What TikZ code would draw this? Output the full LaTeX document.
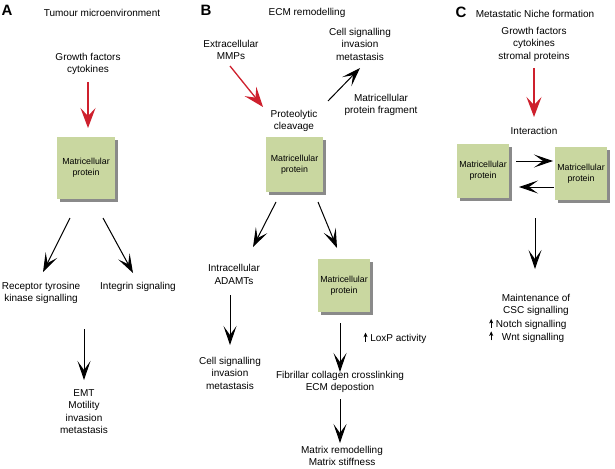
\documentclass[tikz,border=0pt]{standalone}
\usepackage{fontspec}
\setmainfont{Liberation Sans}
\usetikzlibrary{arrows.meta,shadows,calc}
\definecolor{boxgreen}{RGB}{201,215,160}
\definecolor{arrred}{RGB}{206,32,45}
\newcommand\uparr{\tikz[baseline=0pt]\draw[line width=0.7pt,-{Stealth[length=4.5pt,width=4pt,inset=1.2pt]}] (0pt,0pt)--(0pt,9pt);}
\begin{document}
\begin{tikzpicture}[x=1pt,y=-1pt,
  txt/.style={align=center,inner sep=0pt,font=\fontsize{10}{12.5}\selectfont},
  panel/.style={inner sep=0pt,font=\fontsize{15}{15}\selectfont\bfseries},
  mbox/.style={rectangle,fill=boxgreen,align=center,inner sep=0pt,
    font=\fontsize{8.8}{11}\selectfont,
    drop shadow={shadow xshift=2.5pt,shadow yshift=-2.5pt,fill=black!65,opacity=0.7}},
  arr/.style={line width=1pt,-{Stealth[length=19pt,width=13pt,inset=9pt]}},
  redarr/.style={line width=1.3pt,draw=arrred,-{Stealth[length=20pt,width=15pt,inset=8pt,fill=arrred]}}]
\useasboundingbox[fill=white] (0,0) rectangle (615,468);

% ---------------- Panel A
\node[panel] (labA) at (7,10) {A};
\node[txt] (tA) at (102,13) {Tumour microenvironment};
\node[txt] (gfA) at (88,64) {Growth factors\\cytokines};
\node[mbox,minimum width=58pt,minimum height=62pt] (boxA) at (86,168) {Matricellular\\protein};
\node[txt] (rtk) at (41,293) {Receptor tyrosine\\kinase signalling};
\node[txt] (integ) at (138,287) {Integrin signaling};
\coordinate (joinA) at (84,329);
\node[txt] (emt) at (84,411.5) {EMT\\Motility\\invasion\\metastasis};

\draw[redarr] ($(gfA)+(0,18)$) -- ($(boxA)+(2,-40)$);
\draw[arr] ($(boxA)+(-16,50)$) -- ($(rtk)+(2,-21)$);
\draw[arr] ($(boxA)+(17,50)$) -- ($(integ)+(-5,-14)$);
\draw[arr] (joinA) -- ($(emt)+(0,-31.5)$);

% ---------------- Panel B
\node[panel] (labB) at (206,10) {B};
\node[txt] (eB) at (307,13) {ECM remodelling};
\node[txt] (mmp) at (231,50) {Extracellular\\MMPs};
\node[txt] (csB) at (360,44) {Cell signalling\\invasion\\metastasis};
\node[txt] (frag) at (381,105) {Matricellular\\protein fragment};
\node[txt] (prot) at (294,121) {Proteolytic\\cleavage};
\node[mbox,minimum width=57pt,minimum height=55pt] (boxB) at (294.5,164.5) {Matricellular\\protein};
\node[txt] (intra) at (234,274.5) {Intracellular\\ADAMTs};
\node[txt] (csB2) at (230,373) {Cell signalling\\invasion\\metastasis};
\node[mbox,minimum width=52pt,minimum height=53pt] (boxB2) at (344,285.5) {Matricellular\\protein};
\node[txt] (loxp) at (395,338) {\uparr\ LoxP activity};
\node[txt] (fib) at (340,382) {Fibrillar collagen crosslinking\\ECM depostion};
\node[txt] (matrix) at (342,456) {Matrix remodelling\\Matrix stiffness};

\draw[redarr] ($(mmp)+(-1,16)$) -- ($(prot)+(-31,-14)$);
\draw[arr] ($(frag)+(-53,-4)$) -- ($(csB)+(0,24)$);
\draw[arr] ($(boxB)+(-18.5,37.5)$) -- ($(intra)+(19,-27.5)$);
\draw[arr] ($(boxB)+(23.5,37.5)$) -- ($(boxB2)+(-7,-37.5)$);
\draw[arr] ($(intra)+(-4,20.5)$) -- ($(csB2)+(0,-28)$);
\draw[arr] ($(boxB2)+(-4,37.5)$) -- ($(fib)+(0,-10)$);
\draw[arr] ($(fib)+(0,17)$) -- ($(matrix)+(-2,-13)$);

% ---------------- Panel C
\node[panel] (labC) at (461,12) {C};
\node[txt] (eC) at (535,14) {Metastatic Niche formation};
\node[txt] (gfC) at (534,44) {Growth factors\\cytokines\\stromal proteins};
\node[txt] (inter) at (534,131) {Interaction};
\node[mbox,minimum width=52pt,minimum height=54pt] (boxC1) at (483,171) {Matricellular\\protein};
\node[mbox,minimum width=52pt,minimum height=53pt] (boxC2) at (581,173.5) {Matricellular\\protein};
\coordinate (joinC) at (535,218);
\node[txt] (maint) at (536,305) {Maintenance of\\CSC signalling};
\node[txt,anchor=west,align=left] (sig) at (489,330.5) {\uparr\ Notch signalling\\\uparr\hspace{6pt} Wnt signalling};

\draw[redarr] ($(gfC)+(0,24)$) -- ($(inter)+(0,-14)$);
\draw[arr] ($(boxC1)+(33,-10)$) -- ($(boxC2)+(-28,-12.5)$);
\draw[arr] ($(boxC2)+(-27,13.5)$) -- ($(boxC1)+(36,16)$);
\draw[arr] (joinC) -- ($(maint)+(-1,-36)$);
\end{tikzpicture}
\end{document}
